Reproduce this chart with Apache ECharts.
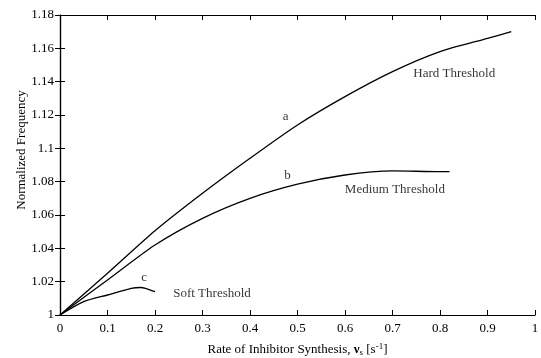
<!DOCTYPE html>
<html>
<head>
<meta charset="utf-8">
<script src="https://cdn.jsdelivr.net/npm/echarts@6/dist/echarts.min.js"></script>
<style>
  html, body { margin: 0; padding: 0; background: #fff; }
  #chart { width: 541px; height: 358px; }
</style>
</head>
<body>
<div id="chart"></div>
<script>
// curve a - hard threshold
var rateA = [0, 0.1, 0.2, 0.3, 0.4, 0.5, 0.6, 0.7, 0.8, 0.9, 0.95];
var freqA = [1, 1.025, 1.0505, 1.073, 1.094, 1.114, 1.131, 1.146, 1.158, 1.166, 1.17];
// curve b - medium threshold
var rateB = [0, 0.1, 0.2, 0.3, 0.4, 0.5, 0.6, 0.7, 0.8, 0.82];
var freqB = [1, 1.021, 1.042, 1.058, 1.07, 1.0785, 1.084, 1.0865, 1.086, 1.086];
// curve c - soft threshold
var rateC = [0, 0.05, 0.1, 0.15, 0.17, 0.18, 0.2];
var freqC = [1, 1.008, 1.012, 1.016, 1.0165, 1.016, 1.014];

var font = "Liberation Serif";

function pairs(xs, ys) {
  var out = [];
  for (var i = 0; i < xs.length; i++) {
    out.push([xs[i], ys[i]]);
  }
  return out;
}

// text labels placed in data coords
var notes = [
  { x: 0.475, y: 1.119, text: "a" },
  { x: 0.479, y: 1.0835, text: "b" },
  { x: 0.177, y: 1.0225, text: "c" },
  { x: 0.83, y: 1.145, text: "Hard Threshold" },
  { x: 0.705, y: 1.075, text: "Medium Threshold" },
  { x: 0.32, y: 1.0126, text: "Soft Threshold" }
];

function lineSeries(data) {
  return {
    type: "line",
    data: data,
    smooth: 0.25,
    showSymbol: false,
    lineStyle: { color: "#000", width: 1.3 },
    silent: true
  };
}

var myChart = echarts.init(document.getElementById("chart"));

var axisBase = {
  min: 0,
  max: 1,
  interval: 0.1,
  axisLine: { lineStyle: { color: "#000", width: 1.2 } },
  axisTick: { inside: true, length: 5, lineStyle: { color: "#000" } },
  splitLine: { show: false }
};

var option = {
  animation: false,
  backgroundColor: "#fff",
  grid: { left: 60, right: 6, top: 15, bottom: 43, containLabel: false, outerBoundsMode: "none" },
  xAxis: [
    Object.assign({}, axisBase, {
      type: "value",
      position: "bottom",
      axisLabel: { color: "#000", fontFamily: font, fontSize: 13, margin: 7 },
      name: "Rate of Inhibitor Synthesis, {v|ν}{sub|s} [s{sup|-1}]",
      nameLocation: "middle",
      nameGap: 27,
      nameMoveOverlap: false,
      nameTextStyle: {
        color: "#000",
        fontFamily: font,
        fontSize: 13,
        rich: {
          v: { fontFamily: font, fontSize: 13, fontWeight: "bold", color: "#000" },
          sub: { fontFamily: font, fontSize: 9, color: "#000", padding: [6, 0, 0, 0] },
          sup: { fontFamily: font, fontSize: 9, color: "#000", padding: [0, 0, 6, 0] }
        }
      }
    }),
    Object.assign({}, axisBase, {
      type: "value",
      position: "top",
      axisLabel: { show: false }
    })
  ],
  yAxis: [
    Object.assign({}, axisBase, {
      type: "value",
      min: 1,
      max: 1.18,
      interval: 0.02,
      position: "left",
      axisLabel: { color: "#000", fontFamily: font, fontSize: 13, margin: 6 },
      name: "Normalized Frequency",
      nameLocation: "middle",
      nameGap: 32,
      nameMoveOverlap: false,
      nameTextStyle: { color: "#000", fontFamily: font, fontSize: 13, padding: [0, 0, 0, 30] }
    }),
    Object.assign({}, axisBase, {
      type: "value",
      min: 1,
      max: 1.18,
      interval: 0.02,
      position: "right",
      axisLabel: { show: false }
    })
  ],
  series: [
    lineSeries(pairs(rateA, freqA)),
    lineSeries(pairs(rateB, freqB)),
    lineSeries(pairs(rateC, freqC)),
    {
      type: "scatter",
      symbolSize: 0,
      silent: true,
      data: notes.map(function (n) {
        return { value: [n.x, n.y], name: n.text };
      }),
      label: {
        show: true,
        position: "inside",
        formatter: "{b}",
        color: "#000",
        fontFamily: font,
        fontSize: 13
      }
    }
  ]
};

myChart.setOption(option);
window.addEventListener("resize", function () {
  myChart.resize();
});
</script>
</body>
</html>
